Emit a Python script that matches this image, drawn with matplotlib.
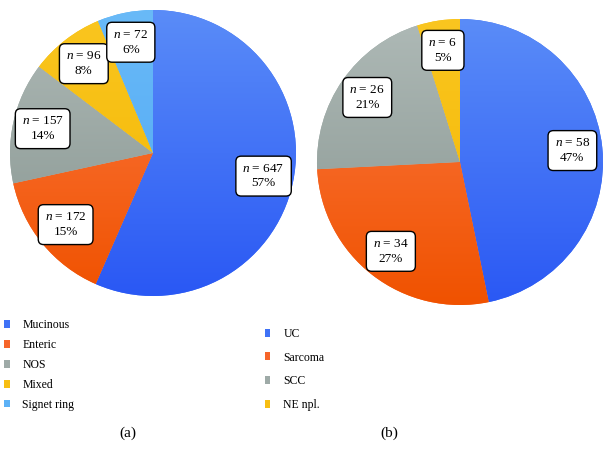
import numpy as np
import matplotlib
matplotlib.use("Agg")
import matplotlib.pyplot as plt
from matplotlib.colors import to_rgb

plt.rcParams['font.family'] = ['Liberation Serif', 'DejaVu Serif']
plt.rcParams['mathtext.fontset'] = 'custom'
plt.rcParams['mathtext.it'] = 'Liberation Serif:italic'
plt.rcParams['mathtext.rm'] = 'Liberation Serif'

# data
labels_a = ["Mucinous", "Enteric", "NOS", "Mixed", "Signet ring"]
counts_a = [647, 172, 157, 96, 72]
labels_b = ["UC", "Sarcoma", "SCC", "NE npl."]
counts_b = [58, 34, 26, 6]

# colours: (mid, top, bottom) for the vertical shading
cols = {
    "blue": ("#3f72f6", "#5a8cf8", "#2a58f4"),
    "orange": ("#f6652a", "#fb7a45", "#f05200"),
    "gray": ("#9eaaa7", "#aeb9b6", "#86948f"),
    "yellow": ("#f7be12", "#fac620", "#f3b600"),
    "lblue": ("#5cb1f6", "#69baf8", "#4ea6f3"),
}
cols_a = ["blue", "orange", "gray", "yellow", "lblue"]
cols_b = ["blue", "orange", "gray", "yellow"]

fig = plt.figure(figsize=(6.13, 4.66), dpi=100)
W, H = 613, 466


def pie_axes(cx, cy, r):
    return fig.add_axes([(cx - r) / W, (H - cy - r) / H, 2 * r / W, 2 * r / H])


def make_pct(counts):
    total = sum(counts)
    def f(p):
        n = int(round(p * total / 100.0))
        return "$n$ = %d\n%d%%" % (n, int(round(p)))
    return f


def draw_pie(ax, counts, ckeys):
    wedges, texts, autotexts = ax.pie(
        counts, colors=[cols[k][0] for k in ckeys], startangle=90,
        counterclock=False, autopct=make_pct(counts), pctdistance=0.79,
        wedgeprops=dict(linewidth=0), radius=1.0)
    # vertical shading, top lighter, bottom darker
    for w, k in zip(wedges, ckeys):
        top = np.array(to_rgb(cols[k][1]))
        bot = np.array(to_rgb(cols[k][2]))
        t = np.linspace(0, 1, 200)[:, None]
        grad = (top * (1 - t) + bot * t)[:, None, :]
        im = ax.imshow(grad, extent=(-1, 1, -1, 1), aspect='auto', zorder=1.5,
                       interpolation='bilinear')
        im.set_clip_path(w)
    for at in autotexts:
        at.set_fontsize(9.5)
        at.set_zorder(3)
        at.set_linespacing(1.3)
        at.set_bbox(dict(boxstyle="round,pad=0.5,rounding_size=0.4",
                         facecolor="white", edgecolor="black", linewidth=1.0))
    ax.set_xlim(-1, 1)
    ax.set_ylim(-1, 1)
    ax.set_aspect('equal')
    ax.axis('off')
    return wedges


ax1 = pie_axes(153, 153, 143)
w1 = draw_pie(ax1, counts_a, cols_a)
ax2 = pie_axes(460, 162, 143)
w2 = draw_pie(ax2, counts_b, cols_b)

fig.legend(w1, labels_a, loc="upper left", bbox_to_anchor=(4 / W, 1 - 319.5 / H),
           frameon=False, fontsize=8.5, handlelength=0.55, handleheight=0.65,
           handletextpad=1.0, labelspacing=0.66, borderaxespad=0, borderpad=0)
fig.legend(w2, labels_b, loc="upper left", bbox_to_anchor=(265 / W, 1 - 328 / H),
           frameon=False, fontsize=8.5, handlelength=0.45, handleheight=0.65,
           handletextpad=1.1, labelspacing=0.98, borderaxespad=0, borderpad=0)

fig.text(128 / W, 1 - 433 / H, "(a)", ha="center", va="center", fontsize=11)
fig.text(389 / W, 1 - 433 / H, "(b)", ha="center", va="center", fontsize=11)

fig.savefig("out.png", dpi=100, facecolor="white")
